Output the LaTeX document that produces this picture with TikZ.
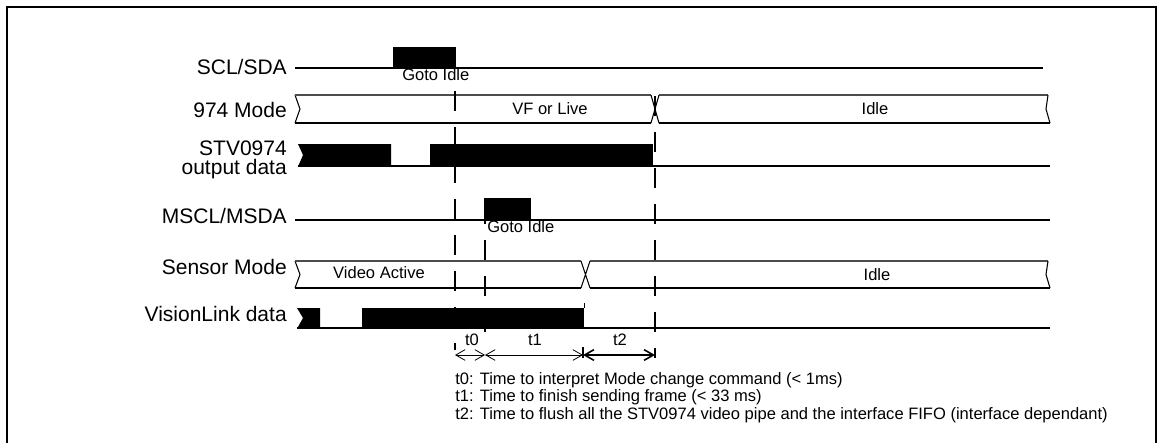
\documentclass[tikz,border=0pt]{standalone}
\usepackage{fontspec}
\setmainfont{Liberation Sans}
\usetikzlibrary{arrows.meta}

\begin{document}
\begin{tikzpicture}[x=0.75pt,y=-0.75pt,
  sig/.style={line width=1.5pt},
  busedge/.style={line width=0.8pt},
  marker/.style={line width=1.5pt,dash pattern=on 15pt off 12pt},
  lbl/.style={inner sep=0pt,font=\fontsize{15.75}{14.5}\selectfont},
  small/.style={inner sep=0pt,font=\fontsize{12.4}{15}\selectfont},
  >={Straight Barb[length=7pt,width=8pt]}]
\useasboundingbox (0,0) rectangle (1161,443);
\draw[line width=2pt] (7,443) -- (7,7) -- (1156,7) -- (1156,443);

% signal names
\node[lbl,anchor=base east] (scl) at (287,74) {SCL/SDA};
\node[lbl,anchor=base east] (mode) at (287,117) {974 Mode};
\node[lbl,anchor=east,align=right] (stv) at (287,160) {STV0974\\output data};
\node[lbl,anchor=base east] (mscl) at (287,223) {MSCL/MSDA};
\node[lbl,anchor=base east] (sensor) at (287,274) {Sensor Mode};
\node[lbl,anchor=base east] (vlink) at (287,321) {VisionLink data};

% SCL/SDA
\draw[sig] (295,68) -- (1043,68);
\fill (393,47) rectangle (456,68);
\node[small,anchor=base west] (gotoa) at (402,80) {Goto Idle};

% 974 Mode
\draw[busedge] (295,95) -- (300,109) -- (295,123);
\draw[busedge,black!70] (295,95) -- (651,95) (659,95) -- (1048,95);
\draw[sig] (295,123) -- (651,123) (659,123) -- (1050,123);
\draw[busedge] (651,95) -- (659,123) (659,95) -- (651,123);
\draw[busedge] (1048,95) -- (1046,109) -- (1050,123);
\node[small] (vf) at (550,109) {VF or Live};
\node[small] (idlea) at (875,109) {Idle};

% STV0974 output data
\draw[sig] (298,166) -- (1050,166);
\fill (298,144) -- (391,144) -- (391,166.75) -- (298,166.75) -- (303,155) -- cycle;
\fill (430,144) rectangle (653,166.75);

% MSCL/MSDA
\draw[sig] (295,220) -- (1050,220);
\fill (484,198) rectangle (531,220);
\node[small,anchor=base west] (gotob) at (487,232) {Goto Idle};

% Sensor Mode
\draw[busedge] (295,261) -- (300,274.5) -- (295,288);
\draw[busedge,black!70] (295,261) -- (581,261) (590,261) -- (1048,261);
\draw[sig] (295,288) -- (581,288) (590,288) -- (1050,288);
\draw[busedge] (581,261) -- (590,288) (590,261) -- (581,288);
\draw[busedge] (1048,261) -- (1046,274.5) -- (1050,288);
\node[small] (video) at (379,272.5) {Video Active};
\node[small] (idleb) at (877,274.5) {Idle};

% VisionLink data
\draw[sig] (297,328) -- (1050,328);
\fill (297,308) -- (320,308) -- (320,328.75) -- (297,328.75) -- (303,318) -- cycle;
\fill (362,308) rectangle (584,328.75);
\draw[line width=0.8pt] (584.5,303) -- (584.5,308);

% timing markers
\coordinate (ma) at (455,355);
\coordinate (mb) at (485,355);
\coordinate (mc) at (583,355);
\coordinate (md) at (655,355);
\draw[marker] (455,91) -- (455,350);
\draw[marker] (485,204) -- (485,345);
\draw[marker] (655,96) -- (655,358);
\draw[line width=1.2pt] (583,347) -- (583,358);
\draw[<->,line width=0.6pt] (ma) -- (mb);
\draw[<->,line width=0.6pt] (mb) -- (mc);
\draw[<->,line width=1.2pt] (mc) -- (md);
\node[small,anchor=base] (tzero) at (472,345) {t0};
\node[small,anchor=base] (tone) at (535,345) {t1};
\node[small,anchor=base] (ttwo) at (620,345) {t2};

% notes
\node[small,anchor=base west] (notea) at (455,384) {t0: Time to interpret Mode change command (< 1ms)};
\node[small,anchor=base west] (noteb) at (455,401.5) {t1: Time to finish sending frame (< 33 ms)};
\node[small,anchor=base west] (notec) at (455,419) {t2: Time to flush all the STV0974 video pipe and the interface FIFO (interface dependant)};
\end{tikzpicture}
\end{document}
